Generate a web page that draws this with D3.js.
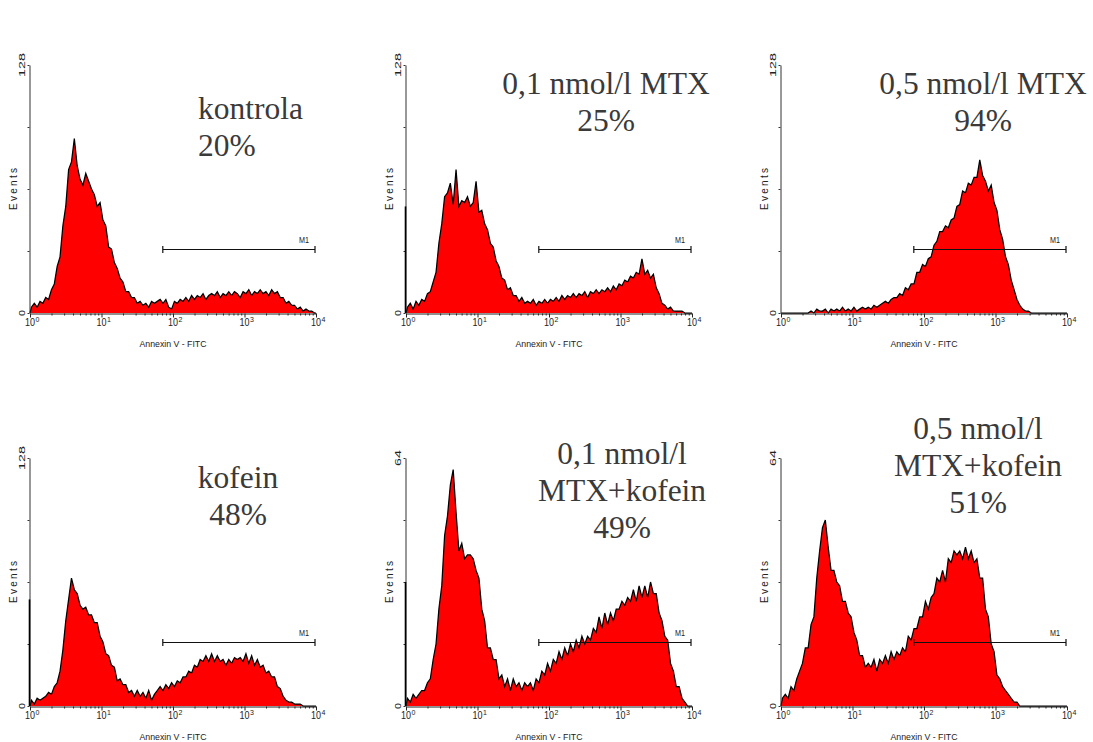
<!DOCTYPE html>
<html>
<head>
<meta charset="utf-8">
<script src="https://cdn.jsdelivr.net/npm/d3@7"></script>
<style>
  body { margin: 0; background: #fff; }
  svg { display: block; }
  .title { font-family: "Liberation Serif", "Times New Roman", Tinos, "DejaVu Serif", serif; }
  .small { font-family: "Liberation Sans", Arial, "DejaVu Sans", sans-serif; }
</style>
</head>
<body>
<script>
// --- counts (100 log channels, 10^0..10^4) ---
const kontrola = [3,5,3,6,5,8,7,12,15,24, 29,45,55,74,78,90,76,69,66,72, 68,64,61,55,57,48,45,34,33,26,
  23,18,16,11,11,8,8,5,6,4, 5,3,6,5,6,7,5,7,3,2, 6,5,7,6,8,6,9,7,9,8,
  10,7,9,10,9,11,8,10,9,11, 9,11,10,8,11,10,12,9,11,10, 12,10,11,9,12,10,11,8,8,5,
  6,4,4,2,3,1,2,1,1,0];
const mtx01 = [3,5,2,6,4,7,6,10,11,16, 21,36,46,60,62,67,56,74,55,58, 57,60,55,57,68,52,53,46,43,36,
  34,27,24,18,17,12,13,9,9,6, 8,5,6,5,7,4,6,5,7,5, 7,6,8,6,9,7,9,8,10,8,
  10,9,11,8,11,10,12,10,12,11, 13,11,14,12,15,14,17,16,19,18, 21,20,28,20,22,18,20,13,10,5,
  4,2,3,1,1,1,1,0,0,0];
const mtx05 = [0,0,0,0,0,0,0,0,0,0, 1,0,2,1,1,2,0,2,1,2, 1,3,1,2,1,3,1,2,3,2,
  3,2,4,3,4,5,6,5,7,8, 8,10,9,13,12,15,15,21,21,25, 24,28,29,35,37,42,42,45,44,48,
  49,55,56,63,62,67,66,70,70,79, 71,68,63,66,57,53,43,38,29,25, 17,12,7,4,2,1,1,0,0,0,
  0,0,0,0,0,0,0,0,0,0];
const kofein = [3,1,4,3,4,5,7,6,10,12, 18,29,44,55,66,60,58,52,50,51, 47,47,43,43,36,33,27,26,21,20,
  13,14,11,11,7,8,5,8,5,7, 4,8,3,6,8,10,8,11,9,12, 10,13,12,15,15,18,17,21,20,24,
  23,26,23,27,23,26,23,24,21,24, 22,25,24,25,23,27,22,26,21,24, 20,21,17,18,15,15,10,9,5,3,
  2,2,1,1,1,0,0,0,0,0];
const mtx01Kofein = [2,1,3,2,3,4,4,6,7,12, 16,25,31,44,49,57,61,50,40,42, 38,39,39,38,35,33,25,22,15,15,
  12,12,7,8,5,7,4,7,5,6, 4,6,5,6,4,7,6,9,8,11, 9,12,11,14,12,15,13,16,14,17,
  15,18,16,18,17,20,19,23,20,24, 21,24,22,25,25,27,26,28,27,30, 27,31,28,31,28,32,29,29,24,22,
  18,17,11,9,5,5,2,1,0,0];
const mtx05Kofein = [2,3,2,5,4,7,9,11,15,15, 21,23,33,40,46,48,41,35,35,32, 31,27,27,24,23,19,17,13,13,10,
  11,10,12,9,12,11,13,11,14,12, 14,13,15,14,18,17,20,20,23,23, 27,25,28,29,33,32,35,32,38,37,
  40,39,40,38,41,38,40,37,38,33, 33,25,23,16,14,8,7,5,4,3, 2,1,1,0,0,0,0,0,0,0,
  0,0,0,0,0,0,0,0,0,0];

const series = [kontrola, mtx01, mtx05, kofein, mtx01Kofein, mtx05Kofein];
const titles = [["kontrola", "20%"], ["0,1 nmol/l MTX", "25%"], ["0,5 nmol/l MTX", "94%"],
  ["kofein", "48%"], ["0,1 nmol/l", "MTX+kofein", "49%"], ["0,5 nmol/l", "MTX+kofein", "51%"]];
const yMax = [128, 128, 128, 128, 64, 64];
const channelZero = [0, 55, 0, 55, 32, 0];   // pile-up in the first channel
const m1Range = [72, 10000];
const m1Level = [33, 33, 33, 33, 16.5, 16.5];
const xTicks = [1, 10, 100, 1000, 10000];
const xTickExp = ["0", "1", "2", "3", "4"];
const decades = 4;

// --- layout ---
const colX = [30, 406, 781];
const rowY = [65, 458];
const pw = 286, ph = 248;
const titleX = [198, 606, 983, 238, 622, 978];
const titleY = [119, 94, 94, 488, 464, 439];
const titleAnchor = ["start", "middle", "middle", "middle", "middle", "middle"];
const lineGap = 37;

const svg = d3.select("body").append("svg")
  .attr("width", 1093)
  .attr("height", 742);

svg.append("rect").attr("width", 1093).attr("height", 742).attr("fill", "#fff");

series.forEach((values, k) => {
  const left = colX[k % 3], top = rowY[Math.floor(k / 3)];
  const bottom = top + ph;

  const x = d3.scaleLog().domain([1, 10000]).range([left, left + pw]);
  const y = d3.scaleLinear().domain([0, yMax[k]]).range([bottom, top]);

  const n = values.length;
  const pts = [[1, 0]].concat(values.map((v, i) => [Math.pow(10, decades * (i + 0.5) / n), v]), [[10000, 0]]);

  const g = svg.append("g").attr("class", "panel");

  // histogram
  g.append("path")
    .datum(pts)
    .attr("fill", "#ff0000")
    .attr("d", d3.area().x(d => x(d[0])).y0(y(0)).y1(d => y(d[1])));
  g.append("path")
    .datum(pts)
    .attr("fill", "none")
    .attr("stroke", "#000")
    .attr("stroke-width", 1.25)
    .attr("d", d3.line().x(d => x(d[0])).y(d => y(d[1])));

  // x axis
  const minor = [];
  for (let d = 0; d < decades; d++) for (let m = 2; m <= 9; m++) minor.push(m * Math.pow(10, d));
  g.append("g")
    .attr("transform", `translate(0,${bottom + 0.5})`)
    .call(d3.axisBottom(x).tickValues(minor).tickSize(2).tickSizeOuter(0).tickFormat(""))
    .call(a => a.select(".domain").remove())
    .call(a => a.selectAll("line").attr("stroke", "#222"));
  g.append("g")
    .attr("transform", `translate(0,${bottom + 0.5})`)
    .call(d3.axisBottom(x).tickValues(xTicks).tickSize(4).tickSizeOuter(0).tickFormat(""))
    .call(a => a.selectAll("line, path").attr("stroke", "#222"));

  xTicks.forEach((t, i) => {
    g.append("text")
      .attr("class", "small")
      .attr("x", x(t))
      .attr("y", bottom + 13)
      .attr("text-anchor", "middle")
      .attr("font-size", 11)
      .attr("textLength", 10)
      .attr("lengthAdjust", "spacingAndGlyphs")
      .attr("fill", "#222")
      .text("10");
    g.append("text")
      .attr("class", "small")
      .attr("x", x(t) + 5.5)
      .attr("y", bottom + 8.5)
      .attr("font-size", 7)
      .attr("fill", "#222")
      .text(xTickExp[i]);
  });

  g.append("text")
    .attr("class", "small")
    .attr("x", left + pw / 2)
    .attr("y", bottom + 34)
    .attr("text-anchor", "middle")
    .attr("font-size", 9.5)
    .attr("textLength", 67)
    .attr("lengthAdjust", "spacingAndGlyphs")
    .attr("fill", "#222")
    .text("Annexin V - FITC");

  // y axis
  const yt = [0, 0.25, 0.5, 0.75, 1].map(f => f * yMax[k]);
  g.append("g")
    .attr("transform", `translate(${left - 0.5},0)`)
    .call(d3.axisLeft(y).tickValues(yt).tickSize(2).tickSizeOuter(0).tickFormat(""))
    .call(a => a.selectAll("line, path").attr("stroke", "#333"));

  if (channelZero[k] > 0) {
    g.append("line")
      .attr("x1", left - 0.5).attr("x2", left - 0.5)
      .attr("y1", y(0)).attr("y2", y(channelZero[k]))
      .attr("stroke", "#000").attr("stroke-width", 1.6);
  }

  [0, yMax[k]].forEach(v => {
    const s = String(v);
    g.append("text")
      .attr("class", "small")
      .attr("transform", `translate(${left - 5.5},${y(v)}) rotate(-90)`)
      .attr("text-anchor", "middle")
      .attr("font-size", 9.5)
      .attr("textLength", s.length > 1 ? s.length * 8 : 6)
      .attr("lengthAdjust", "spacingAndGlyphs")
      .attr("fill", "#222")
      .text(s);
  });

  g.append("text")
    .attr("class", "small")
    .attr("transform", `translate(${left - 13},${(top + bottom) / 2}) rotate(-90)`)
    .attr("text-anchor", "middle")
    .attr("font-size", 10)
    .attr("textLength", 42)
    .attr("lengthAdjust", "spacing")
    .attr("fill", "#222")
    .text("Events");

  // M1 marker
  const my = Math.round(y(m1Level[k])) + 0.5;
  const mx0 = x(m1Range[0]), mx1 = x(m1Range[1]) - 1;
  g.append("path")
    .attr("d", `M${mx0},${my}H${mx1}M${mx0},${my - 3.5}V${my + 3.5}M${mx1},${my - 3.5}V${my + 3.5}`)
    .attr("stroke", "#111")
    .attr("stroke-width", 1.2)
    .attr("fill", "none");
  g.append("text")
    .attr("class", "small")
    .attr("x", mx1 - 6)
    .attr("y", my - 7)
    .attr("text-anchor", "end")
    .attr("font-size", 9.5)
    .attr("textLength", 10)
    .attr("lengthAdjust", "spacingAndGlyphs")
    .attr("fill", "#222")
    .text("M1");

  // title
  titles[k].forEach((line, j) => {
    svg.append("text")
      .attr("class", "title")
      .attr("x", titleX[k])
      .attr("y", titleY[k] + j * lineGap)
      .attr("text-anchor", titleAnchor[k])
      .attr("font-size", 31.5)
      .attr("fill", "#3a3a3a")
      .text(line);
  });
});
</script>
</body>
</html>
